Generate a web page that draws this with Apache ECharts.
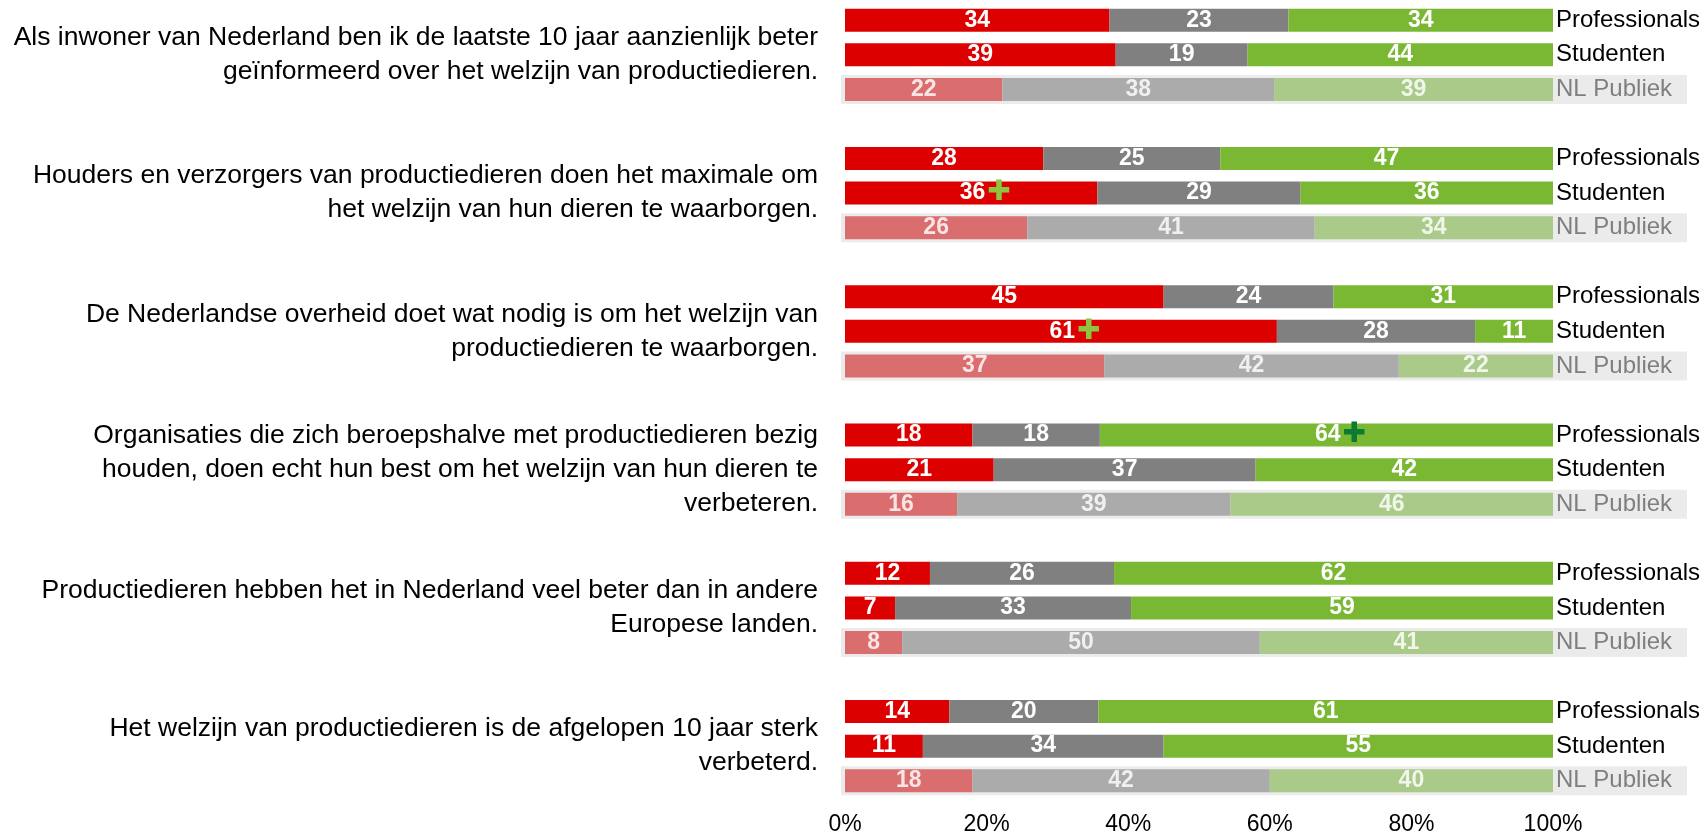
<!DOCTYPE html>
<html>
<head>
<meta charset="utf-8">
<title>Welzijn productiedieren</title>
<script src="https://cdn.jsdelivr.net/npm/echarts@6/dist/echarts.min.js"></script>
<style>
  html, body { margin: 0; padding: 0; background: #fff; }
  #chart { width: 1704px; height: 837px; }
</style>
</head>
<body>
<div id="chart"></div>
<script>
// stellingen (links), per groep drie rijen
const questions = [
  'Als inwoner van Nederland ben ik de laatste 10 jaar aanzienlijk beter\ngeïnformeerd over het welzijn van productiedieren.',
  'Houders en verzorgers van productiedieren doen het maximale om\nhet welzijn van hun dieren te waarborgen.',
  'De Nederlandse overheid doet wat nodig is om het welzijn van\nproductiedieren te waarborgen.',
  'Organisaties die zich beroepshalve met productiedieren bezig\nhouden, doen echt hun best om het welzijn van hun dieren te\nverbeteren.',
  'Productiedieren hebben het in Nederland veel beter dan in andere\nEuropese landen.',
  'Het welzijn van productiedieren is de afgelopen 10 jaar sterk\nverbeterd.'
]
const rowLabels = ['Professionals', 'Studenten', 'NL Publiek']

// [Professionals, Studenten, NL Publiek] per stelling
const oneens = [[34, 39, 22], [28, 36, 26], [45, 61, 37], [18, 21, 16], [12, 7, 8], [14, 11, 18]]
const neutraal = [[23, 19, 38], [25, 29, 41], [24, 28, 42], [18, 37, 39], [26, 33, 50], [20, 34, 42]]
const eens = [[34, 44, 39], [47, 36, 34], [31, 11, 22], [64, 42, 46], [62, 59, 41], [61, 55, 40]]

// significant verschil: [stelling, rij, serie]
const plusMarks = [[1, 1, 0], [2, 1, 0], [3, 0, 2]]

const xTicks = [0, 20, 40, 60, 80, 100]

const colors = {
  strong: ['#dc0000', '#808080', '#7ab833'],
  light: ['#da6d6d', '#ababab', '#a9ca88'],
  plus: ['#8cc63e', '#8cc63e', '#0b7a34']
}

// categorieen: 4 slots per groep (3 rijen + lege ruimte), laatste lege weg
const cats = []
const catInfo = []
questions.forEach((q, g) => {
  for (let r = 0; r < 4; r++) {
    if (g === questions.length - 1 && r === 3) break
    cats.push('c' + g + '_' + r)
    catInfo.push({ g, r })
  }
})

const sources = [oneens, neutraal, eens]
const names = ['Oneens', 'Neutraal', 'Eens']

function hasPlus (g, r, s) {
  return plusMarks.some(p => p[0] === g && p[1] === r && p[2] === s)
}

const barSeries = sources.map((src, s) => ({
  name: names[s],
  type: 'bar',
  stack: 'total',
  barWidth: 23,
  z: 3,
  label: {
    show: true,
    position: 'inside',
    fontFamily: 'Liberation Sans, Arial',
    fontWeight: 'bold',
    fontSize: 23,
    formatter: p => {
      if (!p.data || p.data.raw == null) return ''
      const { g, r } = catInfo[p.dataIndex]
      if (hasPlus(g, r, s)) return '{pad| }{v|' + p.data.raw + '}{p' + s + '|✚}'
      return '{v|' + p.data.raw + '}'
    },
    rich: {
      v: { fontFamily: 'Liberation Sans, Arial', fontWeight: 'bold', fontSize: 23 },
      pad: { width: 28 },
      p0: { color: colors.plus[0], fontSize: 28, fontFamily: 'DejaVu Sans', padding: [0, 0, 0, 2] },
      p2: { color: colors.plus[2], fontSize: 28, fontFamily: 'DejaVu Sans', padding: [0, 0, 0, 2] }
    }
  },
  data: catInfo.map(({ g, r }) => {
    if (r === 3) return { value: null }
    const total = oneens[g][r] + neutraal[g][r] + eens[g][r]
    const v = src[g][r]
    const nl = r === 2
    return {
      value: v / total * 100,
      raw: v,
      itemStyle: { color: nl ? colors.light[s] : colors.strong[s] },
      label: { color: nl ? 'rgba(255,255,255,0.82)' : '#fff' }
    }
  })
}))

// grijze achtergrond achter NL Publiek rijen
const bandSeries = {
  type: 'custom',
  z: 1,
  silent: true,
  renderItem: (params, api) => {
    const p0 = api.coord([0, api.value(1)])
    const p1 = api.coord([100, api.value(1)])
    return {
      type: 'rect',
      shape: { x: p0[0] - 4, y: p0[1] - 14.5, width: p1[0] - p0[0] + 138, height: 29 },
      style: { fill: '#ebebeb' }
    }
  },
  data: catInfo.map((c, i) => ({ c, i })).filter(o => o.c.r === 2).map(o => [0, o.i])
}

const chart = echarts.init(document.getElementById('chart'))
chart.setOption({
  animation: false,
  grid: { left: 845, right: 151, top: 3, bottom: 39 },
  xAxis: {
    type: 'value',
    min: 0,
    max: 100,
    interval: 20,
    axisLine: { show: false },
    axisTick: { show: false },
    splitLine: { show: false },
    axisLabel: {
      formatter: '{value}%',
      color: '#000',
      fontFamily: 'Liberation Sans, Arial',
      fontSize: 23,
      margin: 15
    }
  },
  yAxis: [{
    type: 'category',
    inverse: true,
    data: cats,
    axisLine: { show: false },
    axisTick: { show: false },
    axisLabel: {
      interval: 0,
      margin: 27,
      align: 'right',
      color: '#000',
      fontFamily: 'Liberation Sans, Arial',
      fontSize: 26.5,
      lineHeight: 34,
      formatter: (val, idx) => {
        const { g, r } = catInfo[idx]
        return r === 1 ? questions[g] : ''
      }
    }
  }, {
    type: 'category',
    inverse: true,
    position: 'right',
    z: 10,
    data: cats,
    axisLine: { show: false },
    axisTick: { show: false },
    axisLabel: {
      interval: 0,
      margin: 3,
      align: 'left',
      fontFamily: 'Liberation Sans, Arial',
      fontSize: 24,
      formatter: (val, idx) => {
        const { r } = catInfo[idx]
        if (r === 3) return ''
        return r === 2 ? '{nl|' + rowLabels[r] + '}' : '{d|' + rowLabels[r] + '}'
      },
      rich: {
        d: { color: '#000', fontFamily: 'Liberation Sans, Arial', fontSize: 24 },
        nl: { color: '#7f7f7f', fontFamily: 'Liberation Sans, Arial', fontSize: 24 }
      }
    }
  }],
  series: [bandSeries].concat(barSeries)
})
window.addEventListener('resize', () => chart.resize())
</script>
</body>
</html>
